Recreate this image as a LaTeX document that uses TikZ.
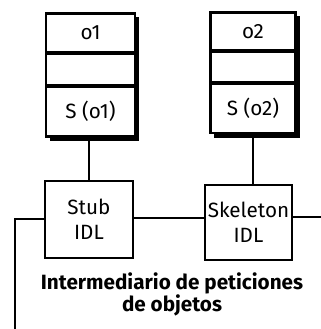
\documentclass[tikz,border=0pt]{standalone}
\usepackage{fontspec}
\setmainfont{Fira Sans}
\usetikzlibrary{positioning,fit,shadows,backgrounds}

\begin{document}
\begin{tikzpicture}[
  x=0.75pt, y=-0.75pt,
  obj/.style={rectangle, draw, line width=1.4pt, fill=white, minimum width=66pt,
              inner sep=0pt, font=\fontsize{15.5}{17}\selectfont},
  idl/.style={rectangle, draw, line width=1.4pt, fill=white, minimum width=66pt,
              minimum height=57pt, inner sep=1pt, align=center,
              font=\fontsize{15.5}{19}\selectfont},
  shd/.style={rectangle, draw, line width=1.4pt, inner sep=0pt,
              drop shadow={shadow xshift=3pt, shadow yshift=-3pt, opacity=1, fill=black}},
  lnk/.style={line width=1.1pt}
]
\useasboundingbox (0,0) rectangle (321,329);

% objetos
\node[obj, minimum height=28.5pt] (o1) at (90.5,33) {o1};
\node[obj, minimum height=23.5pt, below=0pt of o1] (o1m) {};
\node[obj, minimum height=36.5pt, below=0pt of o1m] (o1s) {S (o1)};

\node[obj, minimum width=63pt, minimum height=28pt] (o2) at (253,31.5) {o2};
\node[obj, minimum width=63pt, minimum height=22.5pt, below=0pt of o2] (o2m) {};
\node[obj, minimum width=63pt, minimum height=36.5pt, below=0pt of o2m] (o2s) {S (o2)};

\begin{scope}[on background layer]
\node[shd, fit=(o1)(o1s)] (obj1) {};
\node[shd, fit=(o2)(o2s)] (obj2) {};
\end{scope}

% stub y skeleton
\node[idl, minimum height=58pt] (stub) at (89,219.5) {Stub\\IDL};
\node[idl, minimum width=65pt, minimum height=56pt] (skel) at (248.5,222.5) {Skeleton\\IDL};

\coordinate (fin) at (321,217);
\coordinate (izq) at (15,219);
\coordinate (abajo) at (15,329);

\draw[lnk] (obj1.south -| stub.north) -- (stub.north);
\draw[lnk] (obj2.south) ++(0,3) coordinate (b2) -- (b2 |- skel.north);
\draw[lnk] (stub.east |- 0,218) -- (skel.west |- 0,218);
\draw[lnk] (skel.east |- fin) -- (fin);
\draw[line width=2pt] (stub.west |- izq) -- (izq) -- (abajo);

\node[font=\fontsize{15.5}{16.5}\selectfont\bfseries, align=center] (orb) at (172,294)
  {Intermediario de peticiones\\de objetos};
\end{tikzpicture}
\end{document}
